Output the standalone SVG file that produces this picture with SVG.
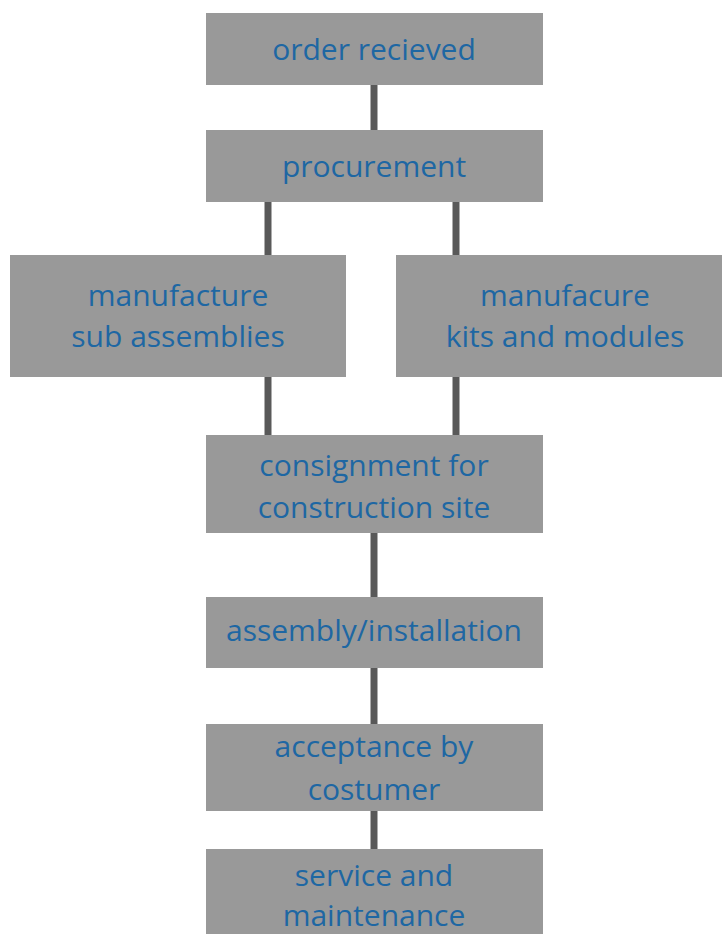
<svg xmlns="http://www.w3.org/2000/svg" width="722" height="934" viewBox="0 0 722 934">
<style>
.box{fill:#999999}
.t{font-family:"Open Sans","Liberation Sans",sans-serif;font-size:30px;fill:#1e67a3;text-anchor:middle}
.c{stroke:#595959;stroke-width:7;fill:none}
</style>
<rect width="722" height="934" fill="#ffffff"/>
<g id="connectors">
<line class="c" x1="374" y1="85" x2="374" y2="130"/>
<line class="c" x1="268" y1="202" x2="268" y2="255"/>
<line class="c" x1="456" y1="202" x2="456" y2="255"/>
<line class="c" x1="268" y1="377" x2="268" y2="435"/>
<line class="c" x1="456" y1="377" x2="456" y2="435"/>
<line class="c" x1="374" y1="533" x2="374" y2="597"/>
<line class="c" x1="374" y1="668" x2="374" y2="724"/>
<line class="c" x1="374" y1="811" x2="374" y2="849"/>
</g>
<g id="n1"><rect class="box" x="206" y="13" width="337" height="72"/><text class="t" x="374" y="60">order recieved</text></g>
<g id="n2"><rect class="box" x="206" y="130" width="337" height="72"/><text class="t" x="374" y="177">procurement</text></g>
<g id="n3"><rect class="box" x="10" y="255" width="336" height="122"/><text class="t" x="178" y="306">manufacture</text><text class="t" x="178" y="347">sub assemblies</text></g>
<g id="n4"><rect class="box" x="396" y="255" width="326" height="122"/><text class="t" x="565" y="306">manufacure</text><text class="t" x="565" y="347">kits and modules</text></g>
<g id="n5"><rect class="box" x="206" y="435" width="337" height="98"/><text class="t" x="374" y="476">consignment for</text><text class="t" x="374" y="518">construction site</text></g>
<g id="n6"><rect class="box" x="206" y="597" width="337" height="71"/><text class="t" x="374" y="641">assembly/installation</text></g>
<g id="n7"><rect class="box" x="206" y="724" width="337" height="87"/><text class="t" x="374" y="757">acceptance by</text><text class="t" x="374" y="800">costumer</text></g>
<g id="n8"><rect class="box" x="206" y="849" width="337" height="85"/><text class="t" x="374" y="886">service and</text><text class="t" x="374" y="926">maintenance</text></g>
</svg>
